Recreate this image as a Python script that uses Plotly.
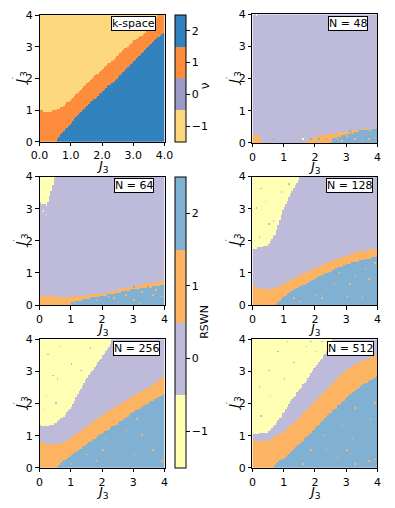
import numpy as np
import plotly.graph_objects as go

# boundary read-outs at J3 = 0, 0.25, ..., 4
j3_knots = [0.0, 0.25, 0.5, 0.75, 1.0, 1.25, 1.5, 1.75, 2.0, 2.25, 2.5, 2.75, 3.0, 3.25, 3.5, 3.75, 4.0]

panel_labels = ["k-space", "N = 48", "N = 64", "N = 128", "N = 256", "N = 512"]
winding_values = [-1, 0, 1, 2]
winding_ticks = ["−1", "0", "1", "2"]

kspace_colors = ["#fed87f", "#9e9ac8", "#fd8d3c", "#3182bd"]
rswn_colors = ["#ffffb3", "#bebada", "#fdb462", "#80b1d3"]

# top of the 2-region, top of the 1-band, bottom of the -1 region (J3' values)
kspace_blue_top = [-1, -1, -0.02, 0.33, 0.57, 0.88, 1.12, 1.35, 1.58, 1.8, 2.04, 2.28, 2.52, 2.75, 3.03, 3.26, 3.47]
kspace_orange_top = [1.0, 0.95, 0.99, 1.13, 1.33, 1.6, 1.84, 2.06, 2.28, 2.5, 2.72, 2.95, 3.16, 3.35, 3.58, 3.95, 4.2]
kspace_yellow_bottom = kspace_orange_top

n48_blue_top = [-1, -1, -1, -1, -1, -1, -1, -1, -1, -1, 0.1, 0.2, 0.28, 0.35, 0.4, 0.42, 0.44]
n48_orange_top = [0.25, 0.25, -1, -1, -1, -1, -0.5, 0.1, 0.2, 0.25, 0.3, 0.33, 0.37, 0.4, 0.44, 0.46, 0.47]
n48_yellow_bottom = [9] * 17

n64_blue_top = [-1, -1, -1, -1, 0.1, 0.15, 0.2, 0.25, 0.3, 0.35, 0.4, 0.45, 0.5, 0.53, 0.56, 0.6, 0.66]
n64_orange_top = [0.32, 0.32, 0.3, 0.22, 0.28, 0.3, 0.32, 0.34, 0.37, 0.42, 0.48, 0.55, 0.6, 0.66, 0.7, 0.72, 0.74]
n64_yellow_bottom = [3.2, 3.1, 4.05, 9, 9, 9, 9, 9, 9, 9, 9, 9, 9, 9, 9, 9, 9]

n128_blue_top = [-1, -1, -1, 0.05, 0.26, 0.45, 0.57, 0.7, 0.82, 0.94, 1.06, 1.17, 1.28, 1.35, 1.4, 1.46, 1.52]
n128_orange_top = [0.61, 0.52, 0.5, 0.54, 0.68, 0.8, 0.93, 1.05, 1.15, 1.26, 1.36, 1.46, 1.54, 1.62, 1.69, 1.73, 1.77]
n128_yellow_bottom = [1.72, 1.8, 1.88, 2.25, 3.0, 3.5, 3.95, 9, 9, 9, 9, 9, 9, 9, 9, 9, 9]

n256_blue_top = [-1, -1, -0.01, 0.21, 0.39, 0.56, 0.73, 0.9, 1.08, 1.24, 1.39, 1.55, 1.73, 1.89, 2.04, 2.18, 2.3]
n256_orange_top = [0.83, 0.75, 0.73, 0.79, 0.94, 1.12, 1.3, 1.47, 1.64, 1.8, 1.95, 2.1, 2.25, 2.38, 2.5, 2.68, 2.88]
n256_yellow_bottom = [1.33, 1.31, 1.4, 1.58, 1.88, 2.33, 2.78, 3.1, 3.45, 3.8, 4.4, 9, 9, 9, 9, 9, 9]

n512_blue_top = [-1, -1, -0.5, 0.15, 0.3, 0.52, 0.75, 1.0, 1.24, 1.46, 1.7, 1.95, 2.18, 2.38, 2.56, 2.72, 2.86]
n512_orange_top = [0.88, 0.84, 0.86, 0.99, 1.14, 1.35, 1.57, 1.81, 2.06, 2.33, 2.6, 2.83, 3.03, 3.2, 3.32, 3.43, 3.51]
n512_yellow_bottom = [1.03, 1.08, 1.12, 1.38, 1.72, 2.12, 2.42, 2.75, 3.12, 3.45, 3.85, 4.5, 9, 9, 9, 9, 9]

# isolated off-phase cells (J3, J3', RSWN)
kspace_speckles = []
n48_speckles = [(0.1, 3.95, -1), (1.62, 0.12, -1), (1.9, 0.1, 2), (2.15, 0.12, 2), (0.7, 0.1, 2),
                (2.7, 0.12, 1), (3.0, 0.22, 1), (3.3, 0.12, 1), (3.6, 0.28, 1), (3.9, 0.18, 1),
                (3.2, 0.33, 1), (3.5, 0.05, 1), (3.8, 0.38, 1), (2.9, 0.05, 1), (3.7, 0.1, 1),
                (2.35, 0.15, 2), (2.55, 0.05, 1), (3.4, 0.42, 2), (3.1, 0.38, 2)]
n64_speckles = [(1.8, 0.17, 1), (2.2, 0.27, 1), (2.5, 0.12, 1), (2.8, 0.33, 1), (3.0, 0.17, 1),
                (3.3, 0.42, 1), (3.5, 0.12, 1), (3.7, 0.47, 1), (3.9, 0.27, 1), (2.4, 0.22, 1),
                (3.2, 0.07, 1), (3.6, 0.32, 1), (0.15, 2.92, -1), (0.2, 2.82, -1), (0.6, 0.05, 0),
                (0.9, 0.05, 0), (1.1, 0.05, 0), (2.65, 0.42, 2), (3.05, 0.55, 2), (3.45, 0.6, 2)]
n128_speckles = [(1.3, 0.2, 1), (1.8, 0.5, 1), (2.2, 0.2, 1), (2.6, 0.7, 1), (3.0, 0.3, 1),
                 (3.3, 0.9, 1), (3.6, 1.1, 1), (3.8, 0.5, 1), (2.8, 1.0, 1), (3.5, 0.2, 1),
                 (1.5, 0.1, 1), (2.4, 0.5, 1), (3.9, 1.3, 1), (0.1, 3.0, 0), (0.3, 3.6, 0),
                 (0.5, 2.5, 0), (0.2, 2.1, 0), (0.7, 2.6, 0), (0.9, 3.5, 0), (0.4, 3.2, 0), (1.2, 3.8, 0),
                 (2.0, 0.35, 1), (3.15, 0.65, 1), (3.7, 0.8, 1)]
n256_speckles = [(1.0, 0.1, 1), (1.5, 0.4, 1), (2.0, 0.6, 1), (2.5, 0.9, 1), (3.0, 0.4, 1),
                 (3.3, 1.0, 1), (3.6, 0.6, 1), (3.8, 1.4, 1), (2.8, 1.2, 1), (3.5, 1.8, 1),
                 (2.3, 0.3, 1), (3.9, 0.2, 1), (1.8, 0.2, 1), (3.1, 1.5, 1), (2.6, 0.5, 1),
                 (0.3, 3.5, 0), (0.6, 2.8, 0), (1.0, 3.2, 0), (0.2, 2.2, 0), (0.5, 2.0, 0),
                 (0.7, 3.8, 0), (1.3, 3.0, 0), (1.6, 3.7, 0), (0.4, 2.9, 0), (0.1, 1.8, 0),
                 (2.15, 0.95, 1), (3.4, 0.25, 1), (3.75, 0.95, 1)]
n512_speckles = [(3.5, 0.25, 1), (3.7, 0.2, 1), (3.9, 0.3, 1), (3.3, 0.15, 1), (3.1, 0.4, 1),
                 (2.7, 0.35, 1), (2.4, 0.6, 1), (2.0, 0.3, 1), (1.6, 0.1, 1), (3.8, 0.8, 1),
                 (3.5, 1.2, 1), (3.2, 0.9, 1), (2.9, 1.3, 1), (3.6, 1.7, 1), (3.9, 2.0, 1),
                 (2.3, 1.0, 1), (1.9, 0.6, 1), (3.3, 1.9, 1), (3.0, 0.6, 1), (3.75, 1.5, 1),
                 (0.2, 2.5, 0), (0.5, 3.0, 0), (1.0, 2.8, 0), (1.3, 3.3, 0), (0.8, 3.6, 0),
                 (1.7, 3.8, 0), (2.0, 3.6, 0), (0.3, 1.6, 0), (0.6, 2.2, 0), (1.1, 3.9, 0),
                 (1.9, 3.9, 0), (2.2, 3.9, 0), (1.3, 1.6, 0), (1.7, 1.9, 0)]

panels = [
    (kspace_blue_top, kspace_orange_top, kspace_yellow_bottom, kspace_speckles),
    (n48_blue_top, n48_orange_top, n48_yellow_bottom, n48_speckles),
    (n64_blue_top, n64_orange_top, n64_yellow_bottom, n64_speckles),
    (n128_blue_top, n128_orange_top, n128_yellow_bottom, n128_speckles),
    (n256_blue_top, n256_orange_top, n256_yellow_bottom, n256_speckles),
    (n512_blue_top, n512_orange_top, n512_yellow_bottom, n512_speckles),
]

W, H = 395, 508


def px_x(x):
    return x / W


def px_y(y):
    return 1 - y / H


# pixel boxes of the six panels (x0, x1, y0, y1)
boxes = [
    (32, 163, 9.3, 139.3), (255, 386, 8.5, 140.5),
    (32, 163, 175, 307), (255, 386, 175, 307),
    (32, 163, 342, 474), (255, 386, 342, 474),
]
label_right = [0.931, 0.924, 0.916, 0.962, 0.964, 0.97]

step = 0.05
grid = np.arange(step / 2, 4.0, step)


def phase_grid(blue, orange, yellow, speckles):
    b = np.interp(grid, j3_knots, blue)
    o = np.interp(grid, j3_knots, orange)
    yl = np.interp(grid, j3_knots, yellow)
    Y = grid[:, None]
    z = np.zeros((len(grid), len(grid)))
    z[Y > yl[None, :]] = -1
    z[Y < o[None, :]] = 1
    z[Y < b[None, :]] = 2
    for sx, sy, v in speckles:
        z[min(int(sy / step), len(grid) - 1), min(int(sx / step), len(grid) - 1)] = v
    return z


def discrete_scale(colors):
    scale = []
    for i, c in enumerate(colors):
        scale += [[i / 4, c], [(i + 1) / 4, c]]
    return scale


font = dict(family="DejaVu Sans", size=11, color="black")
title_font = dict(family="DejaVu Sans", size=13, color="black")
fig = go.Figure()
layout = dict(
    width=W, height=H, margin=dict(l=0, r=0, t=0, b=0),
    paper_bgcolor="white", plot_bgcolor="white", font=font, showlegend=False,
)
annotations = []

for i, (blue, orange, yellow, speckles) in enumerate(panels):
    n = i + 1
    suffix = "" if n == 1 else str(n)
    x0, x1, y0, y1 = boxes[i]
    colors = kspace_colors if i == 0 else rswn_colors
    trace = go.Heatmap(
        x=grid, y=grid, z=phase_grid(blue, orange, yellow, speckles),
        zmin=-1.5, zmax=2.5, colorscale=discrete_scale(colors),
        xaxis=f"x{suffix}", yaxis=f"y{suffix}", hoverinfo="skip", showscale=False,
    )
    if i in (0, 2):
        cy0, cy1 = (9.3, 139.3) if i == 0 else (175, 474)
        trace.showscale = True
        trace.colorbar = dict(
            x=px_x(174), xanchor="left", xpad=0, ypad=0,
            y=px_y((cy0 + cy1) / 2), yanchor="middle",
            len=(cy1 - cy0) / H, lenmode="fraction", thickness=11,
            outlinewidth=1, outlinecolor="black",
            tickvals=winding_values, ticktext=winding_ticks,
            ticks="outside", ticklen=3.5, tickwidth=1, tickcolor="black",
            tickfont=font,
        )
    fig.add_trace(trace)

    layout[f"xaxis{suffix}"] = dict(
        domain=[px_x(x0), px_x(x1)], anchor=f"y{suffix}", range=[0, 4],
        tickvals=[0, 1, 2, 3, 4], tickformat=".1f" if i == 0 else "d",
        ticks="outside", ticklen=3.5, tickwidth=1, tickcolor="black",
        showline=True, linecolor="black", linewidth=1, mirror=True,
        showgrid=False, zeroline=False, tickfont=font,
    )
    layout[f"yaxis{suffix}"] = dict(
        domain=[px_y(y1), px_y(y0)], anchor=f"x{suffix}", range=[0, 4],
        tickvals=[0, 1, 2, 3, 4],
        ticks="outside", ticklen=3.5, tickwidth=1, tickcolor="black",
        showline=True, linecolor="black", linewidth=1, mirror=True,
        showgrid=False, zeroline=False, tickfont=font,
    )
    annotations.append(dict(
        text=panel_labels[i], xref=f"x{suffix} domain", yref=f"y{suffix} domain",
        x=label_right[i], y=0.99, xanchor="right", yanchor="top", showarrow=False,
        bgcolor="white", bordercolor="black", borderwidth=1, borderpad=0, font=font,
    ))
    # axis titles
    annotations.append(dict(
        text="<i>J</i><sub>3</sub>", xref="paper", yref="paper",
        x=px_x((x0 + x1) / 2), y=px_y(y1 + 25), xanchor="center", yanchor="middle",
        showarrow=False, font=title_font,
    ))
    annotations.append(dict(
        text="<i>J</i><sup>′</sup><sub>3</sub>", xref="paper", yref="paper",
        x=px_x(x0 - 20), y=px_y((y0 + y1) / 2), xanchor="center", yanchor="middle",
        textangle=-90, showarrow=False, font=title_font,
    ))

annotations.append(dict(
    text="ν", xref="paper", yref="paper", x=px_x(205), y=px_y(76),
    textangle=-90, showarrow=False, font=dict(family="DejaVu Sans", size=12),
))
annotations.append(dict(
    text="RSWN", xref="paper", yref="paper", x=px_x(205), y=px_y(324.5),
    textangle=-90, showarrow=False, font=font,
))
layout["annotations"] = annotations
fig.update_layout(**layout)
# drop the default page margin so the 395x508 figure fills the window exactly
fig.write_html("out.html", config={"displayModeBar": False},
               post_script="document.body.style.margin='0px';")
